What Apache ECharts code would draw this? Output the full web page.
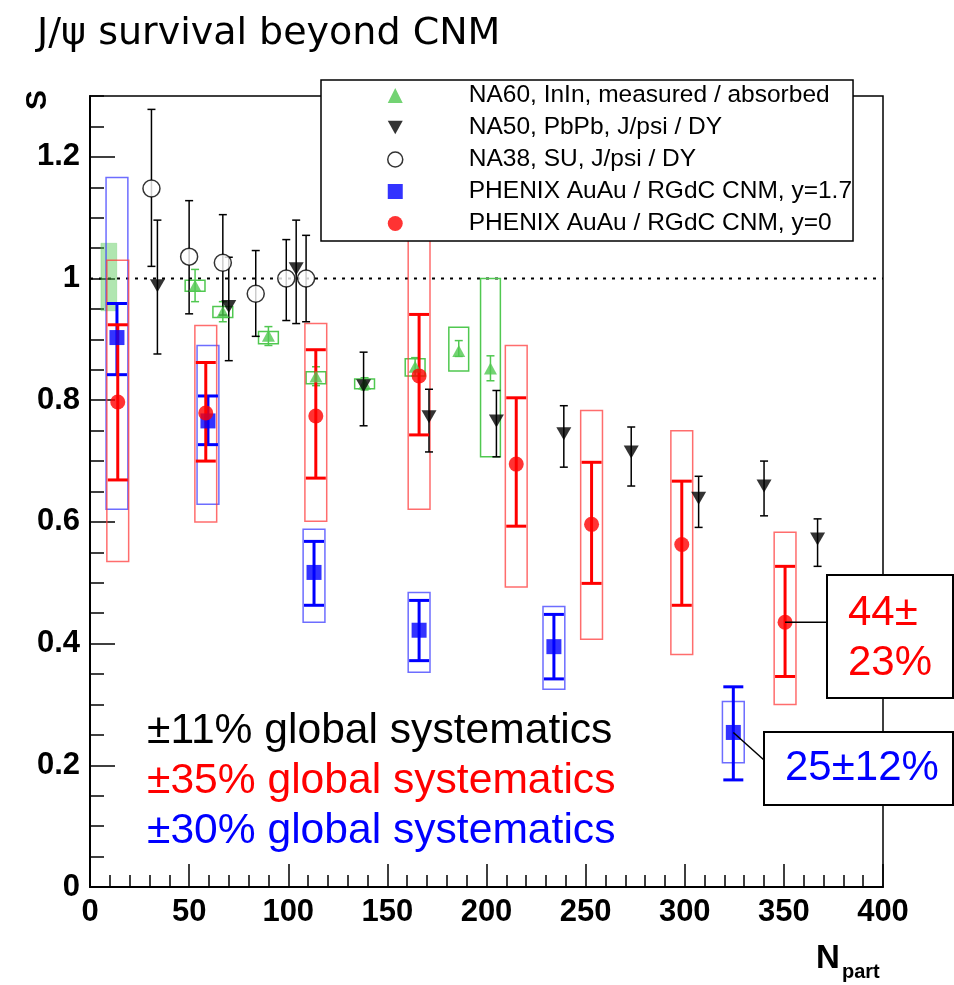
<!DOCTYPE html>
<html><head><meta charset="utf-8">
<script src="https://cdn.jsdelivr.net/npm/echarts@6/dist/echarts.min.js"></script>
<style>html,body{margin:0;padding:0;background:#fff}#c{width:954px;height:985px}</style>
</head><body><div id="c"></div>
<script>
// ---- DATA ----
// NA60 InIn: [Npart, S, statLo, statHi, sysLo, sysHi]
const na60 = [
  [53, 0.988, 0.962, 1.015, 0.979, 0.997],
  [67, 0.945, 0.929, 0.962, 0.936, 0.954],
  [90, 0.906, 0.890, 0.921, 0.893, 0.913],
  [114, 0.839, 0.824, 0.855, 0.827, 0.847],
  [138.5, 0.827, 0.817, 0.837, 0.819, 0.835],
  [164, 0.855, 0.840, 0.870, 0.840, 0.868],
  [186, 0.881, 0.872, 0.898, 0.848, 0.920],
  [202, 0.852, 0.832, 0.873, 0.707, 1.000]
];
// NA60 normalisation band: [Npart, lo, hi]
const na60Norm = [[9.5, 0.947, 1.058]];
// NA50 PbPb: [Npart, S, lo, hi]
const na50 = [
  [34, 0.988, 0.876, 1.096],
  [70, 0.954, 0.865, 1.035],
  [104, 1.016, 0.926, 1.096],
  [138, 0.824, 0.758, 0.879],
  [171, 0.773, 0.715, 0.818],
  [205, 0.766, 0.707, 0.816],
  [239, 0.745, 0.690, 0.791],
  [273, 0.715, 0.659, 0.756],
  [307, 0.639, 0.591, 0.675],
  [340, 0.659, 0.610, 0.700],
  [367, 0.572, 0.527, 0.605]
];
// NA38 SU: [Npart, S, lo, hi]
const na38 = [
  [31, 1.148, 1.020, 1.278],
  [50, 1.036, 0.942, 1.128],
  [67, 1.026, 0.940, 1.105],
  [83.6, 0.975, 0.905, 1.046],
  [99, 1.000, 0.931, 1.064],
  [109, 1.000, 0.929, 1.071]
];
// PHENIX y=1.7: [Npart, S, statLo, statHi, sysLo, sysHi]
const phenixFwd = [
  [13.6, 0.903, 0.842, 0.959, 0.621, 1.166],
  [59.5, 0.766, 0.727, 0.807, 0.629, 0.890],
  [113, 0.517, 0.463, 0.568, 0.435, 0.588],
  [166, 0.422, 0.372, 0.471, 0.353, 0.484],
  [234, 0.395, 0.342, 0.448, 0.325, 0.461],
  [324.5, 0.254, 0.176, 0.329, 0.204, 0.305]
];
// PHENIX y=0: [Npart, S, statLo, statHi, sysLo, sysHi]
const phenixMid = [
  [14, 0.797, 0.669, 0.924, 0.535, 1.030],
  [58.4, 0.779, 0.700, 0.862, 0.600, 0.923],
  [113.9, 0.774, 0.672, 0.883, 0.601, 0.926],
  [166, 0.840, 0.743, 0.941, 0.621, 1.077],
  [215, 0.695, 0.593, 0.804, 0.493, 0.890],
  [253, 0.596, 0.499, 0.698, 0.407, 0.783],
  [298.5, 0.563, 0.463, 0.667, 0.382, 0.750],
  [350.6, 0.435, 0.346, 0.527, 0.300, 0.583]
];
const unityLine = [[0, 1], [400, 1]];
const legendNames = [
  'NA60, InIn, measured / absorbed',
  'NA50, PbPb, J/psi / DY',
  'NA38, SU, J/psi / DY',
  'PHENIX AuAu / RGdC CNM, y=1.7',
  'PHENIX AuAu / RGdC CNM, y=0'
];
const globalSysTexts = ['±11% global systematics', '±35% global systematics', '±30% global systematics'];
const annotMid = ['44±', '23%'];
const annotFwd = '25±12%';
const titleText = 'J/ψ survival beyond CNM';

// ---- STYLE ----
const GREEN = '#50c850', RED = '#ff0000', BLUE = '#0000ff';
const FONT = '"Liberation Sans", Arial, sans-serif';

function errRender(color, width, capPx, loIdx, hiIdx) {
  return function (params, api) {
    const x = api.value(0);
    const pLo = api.coord([x, api.value(loIdx)]);
    const pHi = api.coord([x, api.value(hiIdx)]);
    const st = { stroke: color, lineWidth: width };
    return { type: 'group', children: [
      { type: 'line', shape: { x1: pLo[0], y1: pLo[1], x2: pHi[0], y2: pHi[1] }, style: st },
      { type: 'line', shape: { x1: pLo[0] - capPx, y1: pLo[1], x2: pLo[0] + capPx, y2: pLo[1] }, style: st },
      { type: 'line', shape: { x1: pHi[0] - capPx, y1: pHi[1], x2: pHi[0] + capPx, y2: pHi[1] }, style: st }
    ]};
  };
}
function boxRender(stroke, fill, halfN, loIdx, hiIdx, width) {
  return function (params, api) {
    const x = api.value(0);
    const a = api.coord([x - halfN, api.value(hiIdx)]);
    const b = api.coord([x + halfN, api.value(loIdx)]);
    return { type: 'rect', shape: { x: a[0], y: a[1], width: b[0] - a[0], height: b[1] - a[1] },
      style: { stroke: stroke, fill: fill, lineWidth: width } };
  };
}

const chart = echarts.init(document.getElementById('c'), null, { renderer: 'canvas' });
const option = {
  animation: false,
  backgroundColor: '#fff',
  grid: { left: 90, right: 71, top: 96, bottom: 98, show: true, borderColor: '#000', borderWidth: 1.5,
          backgroundColor: 'transparent', containLabel: false, outerBoundsMode: 'none' },
  xAxis: {
    type: 'value', min: 0, max: 400, interval: 50,
    axisLine: { onZero: false, lineStyle: { color: '#000', width: 2 } },
    axisTick: { inside: true, length: 23, lineStyle: { color: '#000', width: 1.5 } },
    minorTick: { show: true, splitNumber: 5, length: 12, lineStyle: { color: '#000', width: 1.5 } },
    splitLine: { show: false }, minorSplitLine: { show: false },
    axisLabel: { fontFamily: FONT, fontWeight: 'bold', fontSize: 31, color: '#000', margin: 10,
                 showMinLabel: true, showMaxLabel: true, hideOverlap: false }
  },
  yAxis: [{
    type: 'value', min: 0, max: 1.3, interval: 0.2,
    axisLine: { onZero: false, lineStyle: { color: '#000', width: 2 } },
    axisTick: { inside: true, length: 25, lineStyle: { color: '#000', width: 1.5 } },
    splitLine: { show: false },
    axisLabel: { fontFamily: FONT, fontWeight: 'bold', fontSize: 31, color: '#000', margin: 10,
                 showMaxLabel: false, hideOverlap: false,
                 formatter: v => (Math.abs(v - 1.3) < 1e-6 ? '' : String(+v.toFixed(1))) }
  }, {
    type: 'value', min: 0, max: 1.3, interval: 0.05, position: 'left', offset: 0,
    axisLine: { show: false },
    axisTick: { inside: true, length: 14, lineStyle: { color: '#000', width: 1.5 } },
    axisLabel: { show: false }, splitLine: { show: false }
  }],
  legend: {
    left: 321, top: 80, orient: 'vertical', selectedMode: false, z: 20,
    backgroundColor: '#fff', borderColor: '#000', borderWidth: 1.5,
    padding: [3, 1, 5, 66], itemGap: 7, itemWidth: 15, itemHeight: 15,
    textStyle: { fontFamily: FONT, fontSize: 24.5, color: '#000', lineHeight: 25, padding: [0, 0, 0, 61] },
    data: [
      { name: legendNames[0], icon: 'triangle', itemStyle: { color: GREEN } },
      { name: legendNames[1], icon: 'path://M0,0L20,0L10,18Z', itemStyle: { color: '#000' } },
      { name: legendNames[2], icon: 'circle', itemStyle: { color: '#fff', borderColor: '#000', borderWidth: 1.5 } },
      { name: legendNames[3], icon: 'rect', itemStyle: { color: BLUE } },
      { name: legendNames[4], icon: 'circle', itemStyle: { color: RED } }
    ]
  },
  series: [
    { name: 'unity', type: 'line', data: unityLine, symbol: 'none', silent: true, z: 1,
      lineStyle: { color: '#000', width: 2, type: [3, 6] } },
    { name: 'na60norm', type: 'custom', data: na60Norm, z: 2,
      renderItem: boxRender('rgba(80,200,80,0.25)', 'rgba(80,200,80,0.45)', 4, 1, 2, 1) },
    { name: 'na60sys', type: 'custom', data: na60, z: 3,
      renderItem: boxRender(GREEN, 'none', 5, 4, 5, 1.5) },
    { name: 'fwdsys', type: 'custom', data: phenixFwd, z: 3,
      renderItem: boxRender('rgba(60,60,255,0.75)', 'none', 5.5, 4, 5, 1.5) },
    { name: 'midsys', type: 'custom', data: phenixMid, z: 3,
      renderItem: boxRender('rgba(255,60,60,0.75)', 'none', 5.5, 4, 5, 1.5) },
    { name: 'na60err', type: 'custom', data: na60, z: 4, renderItem: errRender(GREEN, 1.5, 4, 2, 3) },
    { name: 'na50err', type: 'custom', data: na50, z: 4, renderItem: errRender('#000', 1.5, 4, 2, 3) },
    { name: 'na38err', type: 'custom', data: na38, z: 4, renderItem: errRender('#000', 1.5, 4, 2, 3) },
    { name: 'fwderr', type: 'custom', data: phenixFwd, z: 4, renderItem: errRender(BLUE, 3, 10, 2, 3) },
    { name: 'miderr', type: 'custom', data: phenixMid, z: 4, renderItem: errRender(RED, 3, 10, 2, 3) },
    { name: legendNames[0], type: 'scatter', data: na60.map(d => [d[0], d[1]]), z: 6,
      symbol: 'triangle', symbolSize: [13, 12], itemStyle: { color: GREEN } },
    { name: legendNames[1], type: 'scatter', data: na50.map(d => [d[0], d[1]]), z: 6,
      symbol: 'triangle', symbolRotate: 180, symbolSize: [15, 13], itemStyle: { color: '#000' } },
    { name: legendNames[2], type: 'scatter', data: na38.map(d => [d[0], d[1]]), z: 6,
      symbol: 'circle', symbolSize: 17, itemStyle: { color: '#fff', borderColor: '#000', borderWidth: 1.5 } },
    { name: legendNames[3], type: 'scatter', data: phenixFwd.map(d => [d[0], d[1]]), z: 6,
      symbol: 'rect', symbolSize: 15, itemStyle: { color: BLUE } },
    { name: legendNames[4], type: 'scatter', data: phenixMid.map(d => [d[0], d[1]]), z: 6,
      symbol: 'circle', symbolSize: 15, itemStyle: { color: RED } }
  ]
};
chart.setOption(option);

const last = phenixMid[phenixMid.length - 1];
const lastF = phenixFwd[phenixFwd.length - 1];
const pMid = chart.convertToPixel({ gridIndex: 0 }, [last[0], last[1]]);
const pFwd = chart.convertToPixel({ gridIndex: 0 }, [lastF[0], lastF[1]]);
const gsColors = ['#000', RED, BLUE];
const graphics = [
  { type: 'text', x: 37, y: 34, z: 100, style: { text: titleText, font: '38px "DejaVu Sans", sans-serif', fill: '#000', align: 'left', verticalAlign: 'middle' } },
  { type: 'text', x: 38, y: 100, rotation: Math.PI / 2, z: 100, style: { text: 'S', font: 'bold 30px ' + FONT, fill: '#000', align: 'center', verticalAlign: 'middle' } },
  { type: 'text', x: 816, y: 959, z: 100, style: { text: 'N', font: 'bold 33px ' + FONT, fill: '#000', align: 'left', verticalAlign: 'middle' } },
  { type: 'text', x: 842, y: 972, z: 100, style: { text: 'part', font: 'bold 20px ' + FONT, fill: '#000', align: 'left', verticalAlign: 'middle' } },
  { type: 'line', z: 100, shape: { x1: pMid[0], y1: pMid[1], x2: 827, y2: pMid[1] }, style: { stroke: '#000', lineWidth: 1.5 } },
  { type: 'rect', z: 100, shape: { x: 827, y: 575, width: 126, height: 123 }, style: { fill: '#fff', stroke: '#000', lineWidth: 2 } },
  { type: 'text', x: 848, y: 613, z: 101, style: { text: annotMid[0], font: '42px ' + FONT, fill: RED, align: 'left', verticalAlign: 'middle' } },
  { type: 'text', x: 848, y: 663, z: 101, style: { text: annotMid[1], font: '42px ' + FONT, fill: RED, align: 'left', verticalAlign: 'middle' } },
  { type: 'line', z: 100, shape: { x1: pFwd[0], y1: pFwd[1], x2: 764, y2: 760 }, style: { stroke: '#000', lineWidth: 1.5 } },
  { type: 'rect', z: 100, shape: { x: 764, y: 732, width: 189, height: 73 }, style: { fill: '#fff', stroke: '#000', lineWidth: 2 } },
  { type: 'text', x: 785, y: 768, z: 101, style: { text: annotFwd, font: '42px ' + FONT, fill: BLUE, align: 'left', verticalAlign: 'middle' } }
];
globalSysTexts.forEach((t, i) => graphics.push({ type: 'text', x: 147, y: 731 + 50 * i, z: 100,
  style: { text: t, font: '42.6px ' + FONT, fill: gsColors[i], align: 'left', verticalAlign: 'middle' } }));
chart.setOption({ graphic: graphics });
</script>
</body></html>
